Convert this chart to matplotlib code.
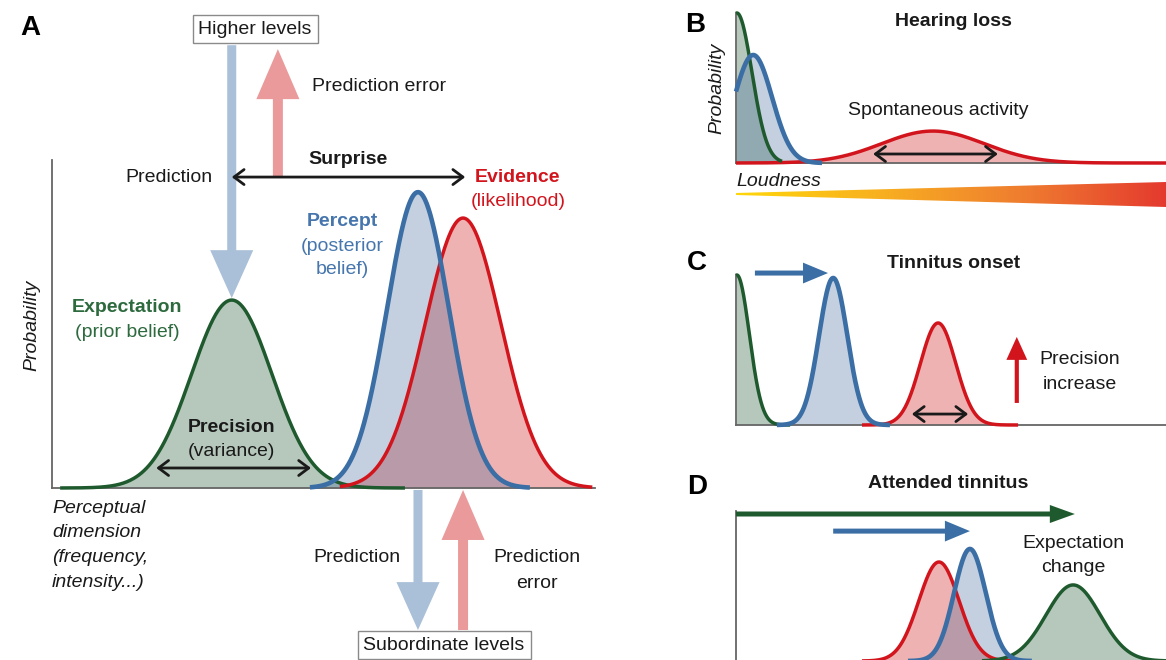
import numpy as np
import matplotlib.pyplot as plt
from matplotlib.patches import FancyArrowPatch, Polygon
from matplotlib.colors import LinearSegmentedColormap

plt.rcParams['font.family'] = ['Liberation Sans', 'DejaVu Sans']
plt.rcParams['font.size'] = 14

W, H = 1166, 660

GREEN = '#1f5a2e'
BLUE = '#3a6ea5'
RED = '#d2151d'
GREEN_FILL = (30/255, 86/255, 49/255)
BLUE_FILL = (60/255, 100/255, 150/255)
RED_FILL = (210/255, 30/255, 30/255)
PALE_BLUE = '#aac0d8'
PALE_RED = '#ea9a9a'
AXIS = '#666666'
INK = '#1a1a1a'

# ---- distributions (mean, sd, peak height, drawn range) ----
# panel A: expectation (prior), percept (posterior), evidence (likelihood)
a_mean = [3.31, 6.74, 7.57]
a_sd = [0.74, 0.57, 0.70]
a_peak = [0.573, 0.902, 0.823]
a_lo = [0.15, 4.75, 5.3]
a_hi = [6.5, 8.8, 9.95]

# panel B: hearing loss
b_mean = [0.02, 0.40, 4.58]
b_sd = [0.35, 0.44, 1.19]
b_peak = [1.0, 0.72, 0.213]
b_lo = [0.0, 0.0, 0.0]
b_hi = [1.07, 2.0, 10.0]

# panel C: tinnitus onset
c_mean = [0.02, 2.26, 4.70]
c_sd = [0.29, 0.33, 0.41]
c_peak = [1.0, 0.98, 0.68]
c_lo = [0.0, 0.95, 2.93]
c_hi = [1.26, 3.58, 6.56]

# panel D: attended tinnitus
d_mean = [7.84, 5.44, 4.72]
d_sd = [0.63, 0.37, 0.47]
d_peak = [0.507, 0.747, 0.66]
d_lo = [5.72, 4.0, 2.93]
d_hi = [10.0, 6.88, 6.5]

loudness_colors = ['#ffd60a', '#f8b020', '#ef7d30', '#e43a2e']


def gauss(x, mu, sd, peak):
    return peak * np.exp(-0.5 * ((x - mu) / sd) ** 2)


def bump_fill(ax, mu, sd, peak, lo, hi, fill, alpha, z=1):
    x = np.linspace(lo, hi, 400)
    ax.fill_between(x, 0, gauss(x, mu, sd, peak), color=fill, alpha=alpha,
                    lw=0, zorder=z)


def bump_line(ax, mu, sd, peak, lo, hi, color, lw, z=3):
    x = np.linspace(lo, hi, 400)
    ax.plot(x, gauss(x, mu, sd, peak), color=color, lw=lw, zorder=z,
            clip_on=False, solid_capstyle='butt')


def fat_arrow(ax, p0, p1, color, tail, hw, hl, z=2):
    # sizes given in points
    ar = FancyArrowPatch(p0, p1, mutation_scale=1, color=color, lw=0,
                         arrowstyle=f'simple,head_length={hl},head_width={hw},tail_width={tail}',
                         shrinkA=0, shrinkB=0, clip_on=False, zorder=z)
    ax.add_patch(ar)


def span_arrow(ax, x0, x1, y, lw=2.0):
    ar = FancyArrowPatch((x0, y), (x1, y), mutation_scale=12, color=INK, lw=lw,
                         arrowstyle='<->,head_length=0.6,head_width=0.45',
                         shrinkA=0, shrinkB=0, clip_on=False, zorder=6)
    ax.add_patch(ar)


def style_axes(ax, bottom=True):
    ax.set_xlim(0, 10)
    ax.set_ylim(0, 1)
    ax.set_xticks([])
    ax.set_yticks([])
    ax.patch.set_alpha(0)
    for s in ['top', 'right']:
        ax.spines[s].set_visible(False)
    for s in ['left', 'bottom']:
        ax.spines[s].set_color(AXIS)
        ax.spines[s].set_linewidth(1.3)
    ax.spines['bottom'].set_visible(bottom)


fig = plt.figure(figsize=(W / 100, H / 100), dpi=100)
fig.patch.set_facecolor('white')

# ================= panel A =================
axA = fig.add_axes([52 / W, (H - 488) / H, 543 / W, 328 / H])
style_axes(axA)

bump_fill(axA, a_mean[0], a_sd[0], a_peak[0], a_lo[0], a_hi[0], GREEN_FILL, 0.32)
bump_fill(axA, a_mean[2], a_sd[2], a_peak[2], a_lo[2], a_hi[2], RED_FILL, 0.34)
bump_fill(axA, a_mean[1], a_sd[1], a_peak[1], a_lo[1], a_hi[1], BLUE_FILL, 0.30)
bump_line(axA, a_mean[0], a_sd[0], a_peak[0], a_lo[0], a_hi[0], GREEN, 2.5)
bump_line(axA, a_mean[2], a_sd[2], a_peak[2], a_lo[2], a_hi[2], RED, 2.5)
bump_line(axA, a_mean[1], a_sd[1], a_peak[1], a_lo[1], a_hi[1], BLUE, 3.3)

# prediction / prediction error arrows to and from higher levels
fat_arrow(axA, (a_mean[0], 1.35), (a_mean[0], 0.579), PALE_BLUE, 6.5, 31, 34.5)
fat_arrow(axA, (4.16, 0.948), (4.16, 1.338), PALE_RED, 7.2, 31, 36)
# and to and from subordinate levels
fat_arrow(axA, (a_mean[1], -0.006), (a_mean[1], -0.433), PALE_BLUE, 6.5, 31, 34.5)
fat_arrow(axA, (a_mean[2], -0.433), (a_mean[2], -0.006), PALE_RED, 7.2, 31, 36)

axA.text(3.74, 1.399, 'Higher levels', ha='center', va='center', color=INK,
         bbox=dict(boxstyle='square,pad=0.3', fc='white', ec='#8a8a8a', lw=1.0),
         zorder=7, clip_on=False)
axA.text(7.22, -0.479, 'Subordinate levels', ha='center', va='center', color=INK,
         bbox=dict(boxstyle='square,pad=0.3', fc='white', ec='#8a8a8a', lw=1.0),
         zorder=7, clip_on=False)

axA.text(-0.59, 1.402, 'A', fontsize=20, fontweight='bold', ha='left', va='center')
axA.text(4.79, 1.223, 'Prediction error', ha='left', va='center', color=INK)
axA.text(2.965, 0.948, 'Prediction', ha='right', va='center', color=INK)
span_arrow(axA, a_mean[0], a_mean[2] + 0.04, 0.948)
axA.text(5.45, 1.0, 'Surprise', ha='center', va='center', fontweight='bold', color=INK)

axA.text(8.58, 0.948, 'Evidence', ha='center', va='center', fontweight='bold', color=RED)
axA.text(8.58, 0.872, '(likelihood)', ha='center', va='center', color=RED)
axA.text(5.34, 0.811, 'Percept', ha='center', va='center', fontweight='bold', color='#4676ad')
for y, t in zip([0.735, 0.665], ['(posterior', 'belief)']):
    axA.text(5.34, y, t, ha='center', va='center', color='#4676ad')
axA.text(1.38, 0.549, 'Expectation', ha='center', va='center', fontweight='bold', color='#2d6a3e')
axA.text(1.38, 0.473, '(prior belief)', ha='center', va='center', color='#2d6a3e')

axA.text(a_mean[0], 0.183, 'Precision', ha='center', va='center', fontweight='bold', color=INK)
axA.text(a_mean[0], 0.110, '(variance)', ha='center', va='center', color=INK)
span_arrow(axA, 1.92, 4.77, 0.061)

axA.text(-0.037, 0.497, 'Probability', transform=axA.transAxes, rotation=90,
         style='italic', ha='center', va='center', color=INK)
for y, t in zip([-0.061, -0.137, -0.213, -0.287],
                ['Perceptual', 'dimension', '(frequency,', 'intensity...)']):
    axA.text(0.0, y, t, style='italic', ha='left', va='center', color=INK)

axA.text(6.41, -0.213, 'Prediction', ha='right', va='center', color=INK)
axA.text(8.93, -0.213, 'Prediction', ha='center', va='center', color=INK)
axA.text(8.93, -0.290, 'error', ha='center', va='center', color=INK)

# ================= panel B =================
axB = fig.add_axes([736 / W, (H - 163) / H, 430 / W, 150 / H])
style_axes(axB)
bump_fill(axB, b_mean[0], b_sd[0], b_peak[0], b_lo[0], b_hi[0], GREEN_FILL, 0.32)
bump_fill(axB, b_mean[1], b_sd[1], b_peak[1], b_lo[1], b_hi[1], BLUE_FILL, 0.30)
bump_fill(axB, b_mean[2], b_sd[2], b_peak[2], b_lo[2], b_hi[2], RED_FILL, 0.34)
bump_line(axB, b_mean[2], b_sd[2], b_peak[2], b_lo[2], b_hi[2], RED, 2.5)
bump_line(axB, b_mean[0], b_sd[0], b_peak[0], b_lo[0], b_hi[0], GREEN, 2.5)
bump_line(axB, b_mean[1], b_sd[1], b_peak[1], b_lo[1], b_hi[1], BLUE, 3.3)
span_arrow(axB, 3.19, 6.09, 0.06)

axB.text(-1.19, 0.92, 'B', fontsize=20, fontweight='bold', ha='left', va='center')
axB.text(5.05, 0.94, 'Hearing loss', ha='center', va='center', fontweight='bold', color=INK)
axB.text(4.70, 0.353, 'Spontaneous activity', ha='center', va='center', color=INK)
axB.text(-0.44, 0.5, 'Probability', rotation=90, style='italic', ha='center',
         va='center', color=INK)
axB.text(0.02, -0.12, 'Loudness', style='italic', ha='left', va='center', color=INK)

# loudness wedge
axG = fig.add_axes([736 / W, (H - 209) / H, 430 / W, 29 / H])
axG.set_xlim(0, 1)
axG.set_ylim(0, 1)
axG.axis('off')
cmap = LinearSegmentedColormap.from_list('loud', loudness_colors)
grad = np.linspace(0, 1, 256).reshape(1, -1)
im = axG.imshow(grad, extent=[0, 1, 0, 1], aspect='auto', cmap=cmap, origin='lower')
wedge = Polygon([[0, 0.552], [1, 0.931], [1, 0.069], [0, 0.483]], closed=True,
                transform=axG.transData, fc='none', ec='none')
axG.add_patch(wedge)
im.set_clip_path(wedge)

# ================= panel C =================
axC = fig.add_axes([736 / W, (H - 425) / H, 430 / W, 150 / H])
style_axes(axC)
bump_fill(axC, c_mean[0], c_sd[0], c_peak[0], c_lo[0], c_hi[0], GREEN_FILL, 0.32)
bump_fill(axC, c_mean[1], c_sd[1], c_peak[1], c_lo[1], c_hi[1], BLUE_FILL, 0.30)
bump_fill(axC, c_mean[2], c_sd[2], c_peak[2], c_lo[2], c_hi[2], RED_FILL, 0.34)
bump_line(axC, c_mean[0], c_sd[0], c_peak[0], c_lo[0], c_hi[0], GREEN, 2.5)
bump_line(axC, c_mean[2], c_sd[2], c_peak[2], c_lo[2], c_hi[2], RED, 2.5)
bump_line(axC, c_mean[1], c_sd[1], c_peak[1], c_lo[1], c_hi[1], BLUE, 3.3)

fat_arrow(axC, (0.44, 1.013), (c_mean[1] - 0.12, 1.013), BLUE, 3.6, 15, 18, z=5)
span_arrow(axC, 4.09, 5.40, 0.073)
fat_arrow(axC, (6.53, 0.147), (6.53, 0.587), RED, 3.0, 15, 16.5, z=5)

axC.text(-1.14, 1.08, 'C', fontsize=20, fontweight='bold', ha='left', va='center')
axC.text(5.05, 1.08, 'Tinnitus onset', ha='center', va='center', fontweight='bold', color=INK)
axC.text(8.0, 0.44, 'Precision', ha='center', va='center', color=INK)
axC.text(8.0, 0.273, 'increase', ha='center', va='center', color=INK)

# ================= panel D =================
# baseline sits on the lower edge of the figure
axD = fig.add_axes([736 / W, (H - 661) / H, 430 / W, 150 / H])
style_axes(axD)
bump_fill(axD, d_mean[2], d_sd[2], d_peak[2], d_lo[2], d_hi[2], RED_FILL, 0.34)
bump_fill(axD, d_mean[1], d_sd[1], d_peak[1], d_lo[1], d_hi[1], BLUE_FILL, 0.30)
bump_fill(axD, d_mean[0], d_sd[0], d_peak[0], d_lo[0], d_hi[0], GREEN_FILL, 0.32)
bump_line(axD, d_mean[2], d_sd[2], d_peak[2], d_lo[2], d_hi[2], RED, 2.5)
bump_line(axD, d_mean[0], d_sd[0], d_peak[0], d_lo[0], d_hi[0], GREEN, 2.5)
bump_line(axD, d_mean[1], d_sd[1], d_peak[1], d_lo[1], d_hi[1], BLUE, 3.3)

fat_arrow(axD, (0.0, 0.98), (d_mean[0] + 0.04, 0.98), GREEN, 3.6, 13, 18, z=5)
fat_arrow(axD, (2.26, 0.866), (d_mean[1], 0.866), BLUE, 3.6, 15, 18, z=5)

axD.text(-1.14, 1.16, 'D', fontsize=20, fontweight='bold', ha='left', va='center')
axD.text(4.93, 1.186, 'Attended tinnitus', ha='center', va='center', fontweight='bold', color=INK)
axD.text(7.84, 0.786, 'Expectation', ha='center', va='center', color=INK)
axD.text(7.84, 0.626, 'change', ha='center', va='center', color=INK)

fig.savefig('out.png', dpi=100)
